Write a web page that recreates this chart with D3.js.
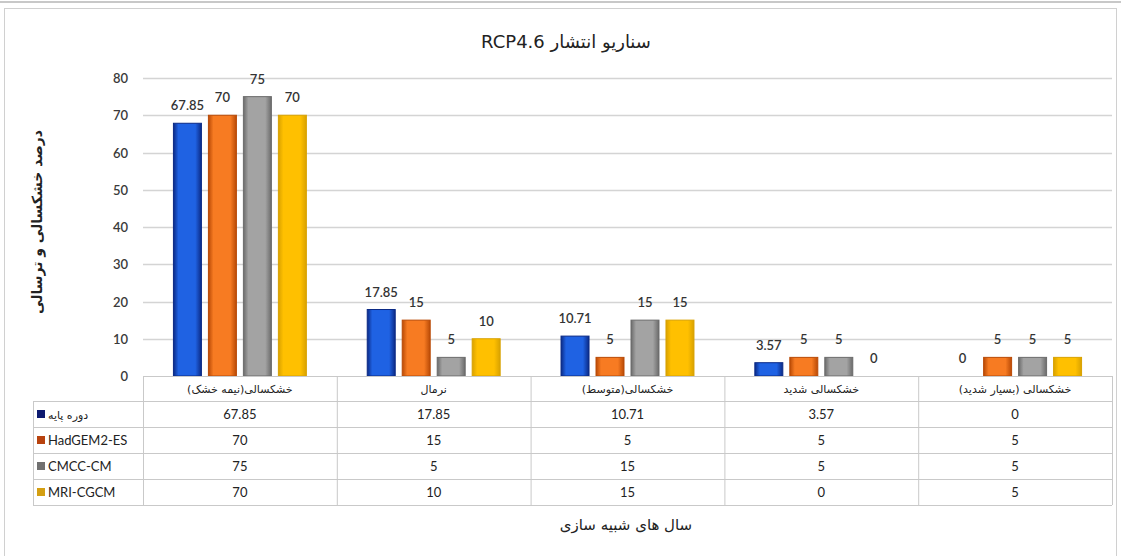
<!DOCTYPE html>
<html>
<head>
<meta charset="utf-8">
<title>RCP4.6</title>
<script src="https://d3js.org/d3.v7.min.js"></script>
<style>
  body { margin: 0; background: #fff; }
</style>
</head>
<body>
<script>
var width = 1121, height = 556;

// data
var categories = ["خشکسالی(نیمه خشک)", "نرمال", "خشکسالی(متوسط)", "خشکسالی شدید", "خشکسالی (بسیار شدید)"];
var seriesNames = ["دوره پایه", "HadGEM2-ES", "CMCC-CM", "MRI-CGCM"];
var baseValues = [67.85, 17.85, 10.71, 3.57, 0];
var hadgemValues = [70, 15, 5, 5, 5];
var cmccValues = [75, 5, 15, 5, 5];
var mriValues = [70, 10, 15, 0, 5];
var yTicks = [0, 10, 20, 30, 40, 50, 60, 70, 80];

var seriesValues = [baseValues, hadgemValues, cmccValues, mriValues];

// colours: [edge, middle] for the bars, and the legend key colour
var barColors = [
    ["#0b2a86", "#1f62e3"],
    ["#b94a06", "#f77b22"],
    ["#6b6b6b", "#a3a3a3"],
    ["#d9a200", "#ffc000"]
];
var keyColors = ["#0d1a70", "#b8420e", "#707070", "#d49f12"];

var faFont = "'DejaVu Sans', sans-serif";
var numFont = "Lato, 'Open Sans', sans-serif";

var svg = d3.select("body").append("svg")
    .attr("width", width)
    .attr("height", height);

// frame
svg.append("line").attr("x1", 0).attr("x2", width).attr("y1", 2).attr("y2", 2)
    .attr("stroke", "#c8c8c8").attr("stroke-width", 2);
svg.append("rect").attr("x", 4.5).attr("y", 8.5).attr("width", 1112).attr("height", 550)
    .attr("fill", "none").attr("stroke", "#d0d0d0");

var defs = svg.append("defs");
barColors.forEach(function(c, i) {
    var g = defs.append("linearGradient").attr("id", "bar-grad-" + i)
        .attr("x1", "0%").attr("x2", "100%").attr("y1", "0%").attr("y2", "0%");
    g.append("stop").attr("offset", "0%").attr("stop-color", c[0]);
    g.append("stop").attr("offset", "18%").attr("stop-color", c[1]);
    g.append("stop").attr("offset", "78%").attr("stop-color", c[1]);
    g.append("stop").attr("offset", "100%").attr("stop-color", c[0]);
});

var plotLeft = 143, plotRight = 1112, plotTop = 78, plotBottom = 376;

var x = d3.scaleBand().domain(categories).range([plotLeft, plotRight]);
var xs = d3.scaleBand().domain(d3.range(seriesNames.length))
    .range([0, x.bandwidth()]).paddingInner(0.2).paddingOuter(0.87);
var y = d3.scaleLinear().domain([0, 80]).range([plotBottom, plotTop]);

// title
svg.append("text")
    .attr("x", 566).attr("y", 48)
    .attr("text-anchor", "middle")
    .attr("direction", "rtl")
    .attr("font-family", faFont)
    .attr("font-size", 18)
    .attr("fill", "#222")
    .text("سناریو انتشار RCP4.6");

// grid lines
svg.append("g").selectAll("line").data(yTicks.slice(1)).join("line")
    .attr("x1", plotLeft).attr("x2", plotRight)
    .attr("y1", function(d) { return Math.round(y(d)) + 0.5; })
    .attr("y2", function(d) { return Math.round(y(d)) + 0.5; })
    .attr("stroke", "#d4d4d4").attr("stroke-width", 1.5);

// y axis labels
svg.append("g").selectAll("text").data(yTicks).join("text")
    .attr("x", 128)
    .attr("y", function(d) { return y(d) + 5; })
    .attr("text-anchor", "end")
    .attr("font-family", numFont)
    .attr("font-size", 13)
    .attr("font-weight", 600)
    .attr("fill", "#3a3a3a")
    .text(function(d) { return d; });

// y axis title
svg.append("text")
    .attr("transform", "translate(42,222) rotate(-90)")
    .attr("text-anchor", "middle")
    .attr("direction", "rtl")
    .attr("font-family", faFont)
    .attr("font-size", 14)
    .attr("font-weight", "bold")
    .attr("fill", "#222")
    .text("درصد خشکسالی و ترسالی");

// bars
var barData = [];
seriesValues.forEach(function(vals, s) {
    vals.forEach(function(v, c) {
        barData.push({ s: s, cat: categories[c], v: v });
    });
});

svg.append("g").selectAll("rect").data(barData).join("rect")
    .attr("x", function(d) { return x(d.cat) + xs(d.s); })
    .attr("y", function(d) { return y(d.v); })
    .attr("width", xs.bandwidth())
    .attr("height", function(d) { return y(0) - y(d.v); })
    .attr("fill", function(d) { return "url(#bar-grad-" + d.s + ")"; })
    .attr("stroke", function(d) { return barColors[d.s][0]; })
    .attr("stroke-width", function(d) { return d.v > 0 ? 1 : 0; });

// value labels
svg.append("g").selectAll("text").data(barData).join("text")
    .attr("x", function(d) { return x(d.cat) + xs(d.s) + xs.bandwidth() / 2; })
    .attr("y", function(d) { return y(d.v) - 13; })
    .attr("text-anchor", "middle")
    .attr("font-family", numFont)
    .attr("font-size", 13)
    .attr("font-weight", 600)
    .attr("fill", "#333")
    .text(function(d) { return d.v; });

// data table
var tableLeft = 33;
var rowY = [376, 401, 427, 453, 479, 505];
var table = svg.append("g").attr("stroke", "#c9c9c9").attr("stroke-width", 1);

// horizontal lines
rowY.forEach(function(ry, i) {
    table.append("line")
        .attr("x1", i === 0 ? plotLeft : tableLeft).attr("x2", plotRight)
        .attr("y1", ry + 0.5).attr("y2", ry + 0.5);
});
// vertical lines
table.append("line").attr("x1", tableLeft + 0.5).attr("x2", tableLeft + 0.5)
    .attr("y1", rowY[1]).attr("y2", rowY[5]);
categories.forEach(function(c) {
    table.append("line").attr("x1", x(c) + 0.5).attr("x2", x(c) + 0.5)
        .attr("y1", rowY[0]).attr("y2", rowY[5]);
});
table.append("line").attr("x1", plotRight + 0.5).attr("x2", plotRight + 0.5)
    .attr("y1", rowY[0]).attr("y2", rowY[5]);

// category header
svg.append("g").selectAll("text").data(categories).join("text")
    .attr("x", function(d) { return x(d) + x.bandwidth() / 2; })
    .attr("y", 393)
    .attr("text-anchor", "middle")
    .attr("direction", "rtl")
    .attr("font-family", faFont)
    .attr("font-size", 11)
    .attr("fill", "#222")
    .text(function(d) { return d; });

// legend keys and names
seriesNames.forEach(function(name, s) {
    var cy = (rowY[s + 1] + rowY[s + 2]) / 2;
    svg.append("rect")
        .attr("x", 37).attr("y", cy - 4)
        .attr("width", 8).attr("height", 8)
        .attr("fill", keyColors[s]);
    svg.append("text")
        .attr("x", 48).attr("y", cy + 5)
        .attr("font-family", s === 0 ? faFont : numFont)
        .attr("font-size", s === 0 ? 11 : 13)
        .attr("fill", "#222")
        .text(name);
    // row values
    svg.append("g").selectAll("text").data(seriesValues[s]).join("text")
        .attr("x", function(d, i) { return x(categories[i]) + x.bandwidth() / 2; })
        .attr("y", cy + 5)
        .attr("text-anchor", "middle")
        .attr("font-family", numFont)
        .attr("font-size", 13)
        .attr("fill", "#222")
        .text(function(d) { return d; });
});

// x axis title
svg.append("text")
    .attr("x", 626).attr("y", 530)
    .attr("text-anchor", "middle")
    .attr("direction", "rtl")
    .attr("font-family", faFont)
    .attr("font-size", 15)
    .attr("fill", "#222")
    .text("سال های شبیه سازی");
</script>
</body>
</html>
